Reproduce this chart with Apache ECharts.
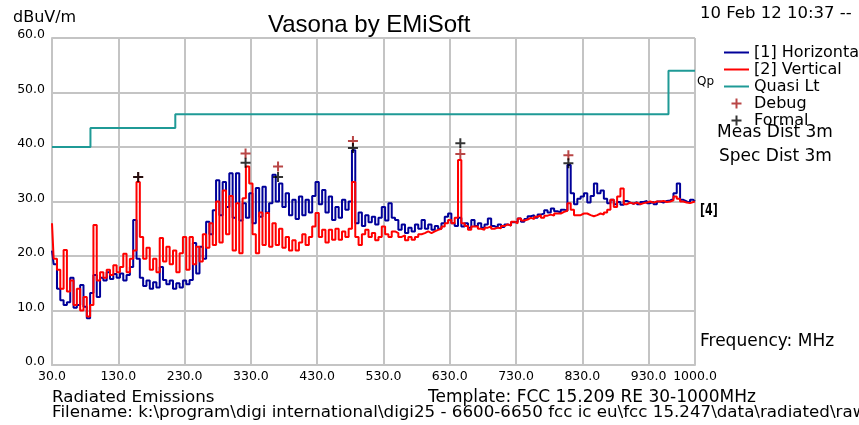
<!DOCTYPE html>
<html>
<head>
<meta charset="utf-8">
<script src="https://cdn.jsdelivr.net/npm/echarts@6/dist/echarts.min.js"></script>
<style>
  html, body { margin: 0; padding: 0; background: #fff; }
  #chart { width: 859px; height: 425px; }
</style>
</head>
<body>
<div id="chart"></div>
<script>
// scan frequencies, MHz
var freqs = [
  30, 35, 40, 45, 50, 55, 60, 65, 70, 75,
  80, 85, 90, 95, 100, 105, 110, 115, 120, 125,
  130, 135, 140, 145, 150, 155, 160, 165, 170, 175,
  180, 185, 190, 195, 200, 205, 210, 215, 220, 225,
  230, 235, 240, 245, 250, 255, 260, 265, 270, 275,
  280, 285, 290, 295, 300, 305, 310, 315, 320, 325,
  330, 335, 340, 345, 350, 355, 360, 365, 370, 375,
  380, 385, 390, 395, 400, 405, 410, 415, 420, 425,
  430, 435, 440, 445, 450, 455, 460, 465, 470, 475,
  480, 485, 490, 495, 500, 505, 510, 515, 520, 525,
  530, 535, 540, 545, 550, 555, 560, 565, 570, 575,
  580, 585, 590, 595, 600, 605, 610, 615, 620, 625,
  630, 635, 640, 645, 650, 655, 660, 665, 670, 675,
  680, 685, 690, 695, 700, 705, 710, 715, 720, 725,
  730, 735, 740, 745, 750, 755, 760, 765, 770, 775,
  780, 785, 790, 795, 800, 805, 810, 815, 820, 825,
  830, 835, 840, 845, 850, 855, 860, 865, 870, 875,
  880, 885, 890, 895, 900, 905, 910, 915, 920, 925,
  930, 935, 940, 945, 950, 955, 960, 965, 970, 975,
  980, 985, 990, 995, 1000
];

// [1] Horizontal, dBuV/m
var horizontal = [
  21.0, 18.5, 14.0, 11.9, 11.0, 11.5, 16.0, 10.5, 11.0, 14.7,
  10.7, 8.6, 13.2, 16.5, 12.5, 16.0, 15.5, 17.0, 15.8, 16.7,
  16.0, 16.8, 15.5, 16.5, 18.0, 26.6, 19.5, 16.0, 14.5, 15.5,
  14.0, 15.2, 14.2, 18.0, 15.6, 14.8, 15.5, 14.0, 15.0, 14.2,
  15.5, 14.8, 15.6, 22.4, 16.8, 21.7, 19.5, 26.3, 24.0, 28.4,
  33.9, 27.5, 33.6, 29.0, 35.2, 27.0, 35.2, 26.5, 29.7, 27.0,
  31.5, 26.0, 32.5, 27.2, 32.7, 28.0, 29.7, 34.9, 30.0, 33.3,
  29.0, 31.5, 27.5, 30.3, 26.8, 30.9, 27.5, 30.3, 28.0, 31.0,
  33.6, 29.5, 32.1, 28.0, 30.9, 26.6, 29.0, 27.0, 30.3, 28.5,
  30.0, 39.4, 26.0, 28.0, 25.5, 27.5, 26.2, 27.2, 25.8, 27.0,
  29.0, 26.5, 29.7, 27.0, 26.6, 24.8, 25.8, 24.2, 25.2, 24.5,
  25.8, 25.0, 26.6, 25.0, 25.8, 24.8, 25.5, 25.0, 26.0, 27.2,
  27.8, 26.0, 25.5, 27.0, 25.4, 26.0, 25.2, 26.6, 25.5, 26.0,
  25.2, 25.8, 26.9, 25.5, 25.2, 25.8, 25.3, 25.8, 25.6, 26.2,
  26.3, 26.9, 26.3, 26.8, 27.3, 27.5, 27.0, 27.6, 27.8, 28.4,
  28.0, 28.7, 28.2, 28.0, 28.5, 28.3, 36.7, 31.5, 29.5, 30.5,
  30.9, 31.5, 29.8, 31.0, 33.3, 31.5, 32.0, 30.5, 29.7, 30.3,
  29.5, 29.9, 29.4, 30.1, 29.8, 29.6, 29.9, 29.5, 29.9, 30.1,
  29.7, 29.9, 29.5, 30.0, 29.8, 30.1, 30.2, 30.5, 31.5, 33.3,
  30.3, 30.0, 29.8, 30.3, 30.0
];

// [2] Vertical, dBuV/m
var vertical = [
  26.0, 19.5, 17.5, 14.0, 21.1, 13.5, 15.5, 11.0, 14.0, 10.0,
  12.5, 8.9, 11.0, 25.7, 15.5, 17.0, 16.0, 17.5, 16.5, 18.3,
  17.0, 18.0, 20.4, 17.0, 19.5, 21.0, 33.6, 23.5, 19.5, 21.5,
  17.5, 19.5, 17.0, 23.3, 19.0, 21.7, 18.5, 21.0, 17.0, 20.5,
  23.5, 17.5, 23.5, 18.5, 21.7, 19.0, 24.0, 21.5, 26.0, 22.0,
  30.0, 22.5, 32.0, 24.0, 31.0, 21.0, 29.7, 20.5, 30.6, 36.4,
  33.3, 24.0, 20.5, 28.0, 22.0, 27.9, 21.7, 26.0, 22.0, 25.0,
  21.5, 23.5, 21.0, 22.9, 21.0, 22.5, 24.0, 22.0, 23.5, 25.4,
  27.9, 23.5, 24.8, 22.5, 24.8, 23.0, 25.0, 23.0, 24.5, 23.5,
  25.0, 33.6, 23.5, 22.0, 24.0, 24.8, 23.5, 24.2, 22.9, 23.5,
  25.4, 24.0, 23.5, 24.5, 24.2, 23.5, 23.8, 22.9, 23.5, 23.0,
  23.5, 24.0, 24.2, 24.5, 24.2, 24.5, 24.8, 25.0, 25.4, 26.0,
  26.6, 26.0, 27.0, 37.6, 26.0, 25.5, 24.8, 25.4, 25.4, 25.0,
  24.8, 25.2, 25.4, 25.0, 25.2, 25.1, 25.5, 25.8, 25.6, 26.3,
  26.0, 26.9, 26.5, 26.7, 27.0, 26.8, 27.2, 27.5, 27.0, 27.4,
  27.6, 27.4, 27.8, 27.8, 28.1, 28.3, 29.7, 28.5, 27.5, 27.5,
  27.8, 27.8, 27.5, 27.3, 27.5, 27.8, 27.6, 28.0, 28.5, 30.3,
  29.0, 30.9, 32.4, 29.5, 29.8, 29.6, 29.8, 29.5, 29.7, 29.8,
  30.0, 29.8, 30.0, 30.0, 30.1, 29.9, 30.0, 30.2, 30.9, 30.5,
  30.0, 29.8, 29.7, 29.9, 30.0
];

// FCC 15.209 quasi-peak limit (steps)
var limitFreqs = [30, 88, 216, 960, 1000];
var limitVals = [40.0, 43.5, 46.0, 54.0, 54.0];

// peak markers
var debugFreqs = [160, 322, 371, 484, 646, 809];
var debugVals = [34.5, 38.8, 36.4, 41.1, 38.7, 38.5];
var formalFreqs = [160, 322, 371, 484, 646, 809];
var formalVals = [34.5, 37.1, 34.5, 39.8, 40.7, 37.0];

var F0 = 30; // axis starts at 30 MHz, ticks every 100 from there

function pairs(xs, ys) {
  return xs.map(function (x, i) { return [x - F0, ys[i]]; });
}

var PLUS = 'path://M4,0H6V4H10V6H6V10H4V6H0V4H4Z';
var LINE_ICON = 'path://M0,0H25V2H0Z';
var FONT = 'DejaVu Sans';
var gridGray = '#c4c4c4';

var chart = echarts.init(document.getElementById('chart'), null, { renderer: 'canvas' });

var option = {
  animation: false,
  backgroundColor: '#fff',
  title: {
    text: 'Vasona by EMiSoft',
    left: 263,
    top: 8,
    textStyle: { fontFamily: 'Liberation Sans', fontSize: 24, fontWeight: 'normal', color: '#000' }
  },
  legend: {
    orient: 'vertical',
    left: 719,
    top: 39,
    itemWidth: 25,
    itemHeight: 10,
    itemGap: 0,
    textStyle: { fontFamily: FONT, fontSize: 16, lineHeight: 17, color: '#000' },
    data: [
      { name: '[1] Horizontal', icon: LINE_ICON },
      { name: '[2] Vertical', icon: LINE_ICON },
      { name: 'Quasi Lt', icon: LINE_ICON },
      { name: 'Debug', icon: PLUS },
      { name: 'Formal', icon: PLUS }
    ]
  },
  grid: { left: 52, right: 164, top: 38, bottom: 60 },
  xAxis: {
    type: 'value',
    min: 0,
    max: 1000 - F0,
    interval: 100,
    axisLine: { show: true, lineStyle: { color: gridGray, width: 2 } },
    axisTick: { show: false },
    splitLine: { show: true, lineStyle: { color: gridGray, width: 2 } },
    axisLabel: {
      margin: 5,
      fontFamily: FONT,
      fontSize: 12.5,
      color: '#000',
      formatter: function (v) { return (v + F0).toFixed(1); }
    }
  },
  yAxis: {
    type: 'value',
    min: 0,
    max: 60,
    interval: 10,
    axisLine: { show: true, lineStyle: { color: gridGray, width: 2 } },
    axisTick: { show: false },
    splitLine: { show: true, lineStyle: { color: gridGray, width: 2 } },
    axisLabel: {
      margin: 7,
      fontFamily: FONT,
      fontSize: 12.5,
      color: '#000',
      verticalAlign: 'bottom',
      lineHeight: 6,
      formatter: function (v) { return v.toFixed(1); }
    }
  },
  series: [
    {
      name: '[1] Horizontal',
      type: 'line',
      step: 'middle',
      symbol: 'none',
      color: '#000099',
      lineStyle: { color: '#000099', width: 2 },
      data: pairs(freqs, horizontal),
      z: 2
    },
    {
      name: '[2] Vertical',
      type: 'line',
      step: 'middle',
      symbol: 'none',
      color: '#ff0000',
      lineStyle: { color: '#ff0000', width: 2 },
      data: pairs(freqs, vertical),
      z: 3
    },
    {
      name: 'Quasi Lt',
      type: 'line',
      step: 'end',
      symbol: 'none',
      color: '#1f9a96',
      lineStyle: { color: '#1f9a96', width: 2 },
      data: pairs(limitFreqs, limitVals),
      endLabel: {
        show: true,
        formatter: 'Qp',
        fontFamily: FONT,
        fontSize: 12,
        color: '#000',
        distance: 2,
        offset: [0, 11]
      },
      z: 4
    },
    {
      name: 'Debug',
      type: 'scatter',
      symbol: PLUS,
      symbolSize: 10,
      color: '#a81818',
      data: pairs(debugFreqs, debugVals),
      z: 5
    },
    {
      name: 'Formal',
      type: 'scatter',
      symbol: PLUS,
      symbolSize: 10,
      color: '#000',
      data: pairs(formalFreqs, formalVals),
      z: 6
    }
  ],
  graphic: [
    { type: 'text', left: 13, top: 10, style: { text: 'dBuV/m', font: '16px ' + FONT, fill: '#000' } },
    { type: 'text', left: 700, top: 5, style: { text: '10 Feb 12 10:37 --', font: '16.5px ' + FONT, fill: '#000' } },
    { type: 'text', left: 717, top: 124, style: { text: 'Meas Dist 3m', font: '17px ' + FONT, fill: '#000' } },
    { type: 'text', left: 719, top: 148, style: { text: 'Spec Dist 3m', font: '17px ' + FONT, fill: '#000' } },
    { type: 'text', left: 700, top: 202, scaleY: 1.5, style: { text: '[4]', font: 'bold 11px ' + FONT, fill: '#000' } },
    { type: 'text', left: 700, top: 333, style: { text: 'Frequency: MHz', font: '17px ' + FONT, fill: '#000' } },
    { type: 'text', left: 52, top: 389, style: { text: 'Radiated Emissions', font: '16.7px ' + FONT, fill: '#000' } },
    { type: 'text', left: 428, top: 389, style: { text: 'Template: FCC 15.209 RE 30-1000MHz', font: '17px ' + FONT, fill: '#000' } },
    { type: 'text', left: 52, top: 404, style: { text: 'Filename: k:\\program\\digi international\\digi25 - 6600-6650 fcc ic eu\\fcc 15.247\\data\\radiated\\raw', font: '16.7px ' + FONT, fill: '#000' } }
  ]
};

chart.setOption(option);
</script>
</body>
</html>
